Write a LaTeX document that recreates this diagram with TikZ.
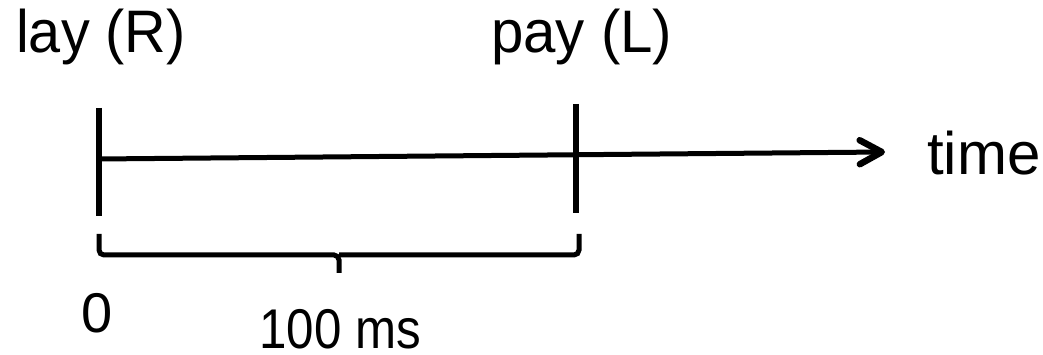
\documentclass[tikz,border=0pt]{standalone}
\usepackage{fontspec}
\setmainfont{Liberation Sans}
\usetikzlibrary{arrows.meta}
\begin{document}
\begin{tikzpicture}[x=1pt,y=1pt,
  lbl/.style={anchor=base west,inner sep=0pt},
  big/.style={font=\fontsize{60}{72}\selectfont},
  small/.style={font=\fontsize{56}{67}\selectfont},
  ln/.style={line width=5pt},
  tick/.style={line width=6pt}]
\useasboundingbox (0,0) rectangle (1043,355);
% ticks
\coordinate (lt) at (99,247);
\coordinate (lb) at (99,139);
\coordinate (rt) at (576,251);
\coordinate (rb) at (576,142);
\draw[tick] (lt) -- (lb);
\draw[tick] (rt) -- (rb);
% time axis
\coordinate (a0) at (99,196);
\coordinate (a1) at (885,203);
\draw[ln,-{Straight Barb[length=22pt,width=24pt,line width=6.5pt,line cap=round,line join=round]}] (a0) -- (a1);
% brace
\coordinate (bl) at (99,121);
\coordinate (br) at (579,121);
\coordinate (bm) at (339,82);
\draw[ln,rounded corners=5pt] (bl) -- (99,100) -- (339,100) -- (bm);
\draw[ln,rounded corners=5pt] (339,100) -- (579,100) -- (br);
% labels
\node[lbl,big] (lay) at (16,302) {\scalebox{0.96}[1]{lay (R)}};
\node[lbl,big] (pay) at (491,302) {\scalebox{0.97}[1]{pay (L)}};
\node[lbl,big] (time) at (927,180) {time};
\node[lbl,small] (zero) at (81,22) {0};
\node[lbl,small] (ms) at (259,6) {\scalebox{0.88}[1]{100 ms}};
\end{tikzpicture}
\end{document}
